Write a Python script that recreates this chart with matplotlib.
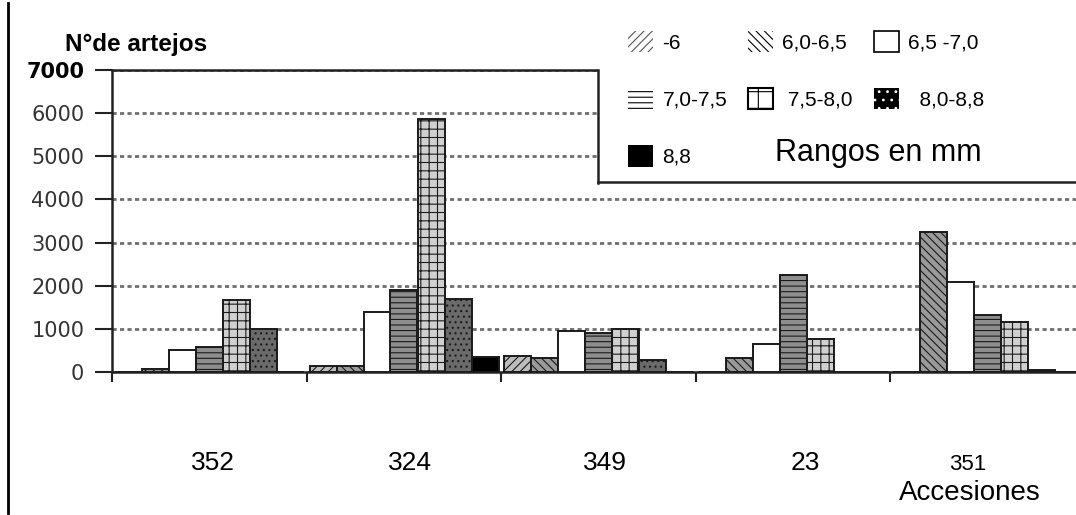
import matplotlib
matplotlib.use('Agg')
import matplotlib.pyplot as plt
from matplotlib.patches import Patch, Rectangle
from matplotlib.lines import Line2D
import numpy as np

plt.rcParams['font.family'] = ['Liberation Sans', 'DejaVu Sans']
plt.rcParams['hatch.linewidth'] = 0.8

# Datos
accesiones = ['352', '324', '349', '23', '351']
rangos = ['-6', '6,0-6,5', '6,5 -7,0', '7,0-7,5', ' 7,5-8,0', '  8,0-8,8', '8,8']

r_menos6 = [0, 140, 380, 0, 0]
r_60_65 = [60, 140, 320, 330, 3250]
r_65_70 = [500, 1380, 960, 640, 2080]
r_70_75 = [580, 1890, 900, 2250, 1330]
r_75_80 = [1660, 5860, 990, 760, 1170]
r_80_88 = [990, 1700, 280, 0, 40]
r_88 = [0, 350, 0, 0, 0]

series = [r_menos6, r_60_65, r_65_70, r_70_75, r_75_80, r_80_88, r_88]

# estilo de barras (aspecto escaneado)
bar_face = ['#bdbdbd', '#9a9a9a', 'white', '#8e8e8e', '#d0d0d0', '#6a6a6a', 'black']
bar_hatch = ['////', '\\\\\\\\', None, '---', '++', '...', None]

# estilo de la leyenda (simbolos limpios)
leg_face = ['white', 'white', 'white', 'white', 'white', 'black', 'black']
leg_edge = ['#555555', 'black', 'black', 'black', 'black', 'white', 'black']
leg_hatch = ['////', '\\\\\\\\', None, '---', '+', '..', None]
leg_lw = [0, 0, 1.2, 0, 1.5, 0, 0]

W, H = 1076, 515
fig = plt.figure(figsize=(W / 100, H / 100), dpi=100)
ax = fig.add_axes([112 / W, 1 - 372 / H, 1 - 112 / W, (372 - 70) / H])

x = np.arange(len(accesiones))
w = 27 / 194.5
off = 3 / 194.5
for k, vals in enumerate(series):
    ax.bar(x + off + k * w, vals, width=w, align='edge',
           facecolor=bar_face[k], edgecolor='#1a1a1a', linewidth=1.4,
           hatch=bar_hatch[k], zorder=3)

ax.set_xlim(0, (W - 112) / 194.5)
ax.set_ylim(0, 7000)

ax.set_xticks(x)
ax.tick_params(axis='x', direction='out', length=7, width=1.5,
               labelbottom=False, color='#222222')
yt = list(range(0, 7001, 1000))
ax.set_yticks(yt, [str(v) for v in yt])
ax.tick_params(axis='y', direction='out', length=12, width=1.5, pad=8,
               color='#222222')
for lab in ax.get_yticklabels():
    lab.set_family('DejaVu Sans')
    lab.set_fontsize(15)
    lab.set_color('#333333')
top = ax.get_yticklabels()[-1]
top.set_fontweight('bold')
top.set_color('black')

ax.yaxis.grid(True, linestyle=(0, (1.5, 1.2)), color='#6f6f6f', linewidth=2)
ax.set_axisbelow(True)

for s in ['left', 'bottom', 'top']:
    ax.spines[s].set_linewidth(1.8)
    ax.spines[s].set_color('#222222')
ax.spines['right'].set_visible(False)

# caja de la leyenda
fig.patches.append(Rectangle((598 / W, 1 - 182 / H), 1, 1, transform=fig.transFigure,
                             facecolor='white', edgecolor='none', zorder=5))
fig.lines.append(Line2D([598 / W, 598 / W], [1 - 70 / H, 1 - 183 / H],
                        transform=fig.transFigure, color='#222222', lw=1.8, zorder=6))
fig.lines.append(Line2D([598 / W, 1], [1 - 182 / H, 1 - 182 / H],
                        transform=fig.transFigure, color='#222222', lw=1.8, zorder=6))
# linea vertical izquierda
fig.lines.append(Line2D([8 / W, 8 / W], [1 - 3 / H, 1 - 513 / H],
                        transform=fig.transFigure, color='black', lw=2, zorder=6))

handles = [Patch(facecolor=leg_face[k], edgecolor=leg_edge[k], hatch=leg_hatch[k],
                 linewidth=leg_lw[k], label=rangos[k]) for k in range(7)]
order = [0, 3, 6, 1, 4, 2, 5]
leg = fig.legend([handles[i] for i in order], [rangos[i] for i in order],
                 ncol=3, loc='upper left', bbox_to_anchor=(628 / W, 1 - 31 / H),
                 frameon=False, fontsize=15, handlelength=1.2, handleheight=1.2,
                 handletextpad=0.45, columnspacing=1.0, labelspacing=1.7,
                 borderpad=0, borderaxespad=0)
leg.set_zorder(10)

fig.text(775 / W, 1 - 153 / H, 'Rangos en mm', fontsize=22, va='center', zorder=10)
fig.text(65 / W, 1 - 45 / H, 'N°de artejos', fontsize=17.5, fontweight='bold', va='center')

lab_x = [213, 410, 605, 805]
for name, px in zip(accesiones[:4], lab_x):
    fig.text(px / W, 1 - 463 / H, name, fontsize=19, ha='center', va='center')
fig.text(968 / W, 1 - 465 / H, accesiones[4], fontsize=16, ha='center', va='center')
fig.text(970 / W, 1 - 493 / H, 'Accesiones', fontsize=20, ha='center', va='center')

fig.savefig('out.png', dpi=100)
